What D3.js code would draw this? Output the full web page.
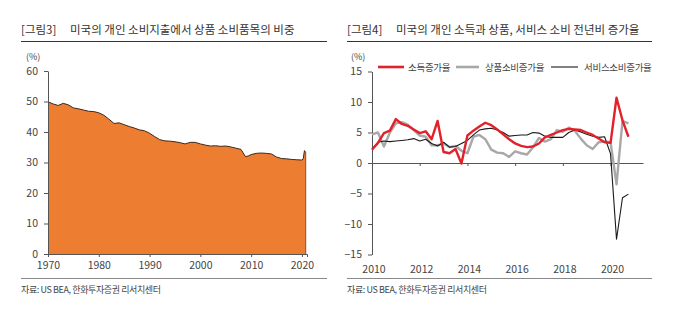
<!DOCTYPE html>
<html><head><meta charset="utf-8">
<script src="https://cdn.jsdelivr.net/npm/d3@7"></script>
<style>
body{margin:0;background:#fff;}
svg text{font-family:"Noto Sans CJK KR","Noto Sans",sans-serif;}
</style></head>
<body><svg id="c" width="680" height="323"></svg>
<script>
// ---- Figure 3: goods share of personal consumption expenditure (%)
const shareYears = [1970,1971,1972,1973,1974,1975,1976,1977,1978,1979,1980,1981,1982,1983,1984,1985,1986,1987,1988,1989,1990,1991,1992,1993,1994,1995,1996,1997,1998,1999,2000,2001,2002,2003,2004,2005,2006,2007,2008,2008.9,2009.5,2010,2011,2012,2013,2014,2015,2016,2017,2018,2019,2020.0,2020.25,2020.5,2020.75];
const shareValues = [49.9,49.2,48.7,49.4,48.9,47.9,47.6,47.2,46.8,46.7,46.3,45.5,44.2,42.8,43.0,42.4,41.8,41.3,40.7,40.4,39.6,38.5,37.5,37.1,37.0,36.8,36.5,36.1,36.6,36.6,36.1,35.7,35.4,35.5,35.3,35.4,35.1,34.7,34.3,31.9,32.2,32.6,33.0,33.1,33.0,32.8,31.8,31.3,31.2,31.0,30.9,30.8,31.2,33.9,33.3];
const leftXTicks = [1970,1980,1990,2000,2010,2020];
const leftYTicks = [0,10,20,30,40,50,60];

// ---- Figure 4: YoY growth (%), quarterly 2010Q1 - 2020Q4
const quarters = d3.range(44).map(i => 2010 + i/4);
const incomeGrowth = [2.2,3.3,4.9,5.3,7.2,6.4,6.1,5.5,4.9,5.2,3.9,6.9,1.8,1.6,2.3,-0.1,4.5,5.3,6.0,6.6,6.2,5.5,4.7,3.9,3.2,2.8,2.6,2.7,3.2,4.2,4.6,5.0,5.4,5.6,5.5,5.4,5.0,4.6,4.0,3.4,3.3,10.7,7.0,4.3];
const goodsGrowth = [4.7,5.0,2.7,5.0,6.5,6.7,6.3,5.4,4.5,4.3,2.9,2.9,3.2,2.6,2.8,2.0,1.6,4.3,4.6,3.9,2.2,1.7,1.6,1.0,1.9,1.6,1.4,2.6,4.1,3.5,3.9,5.4,5.1,5.8,5.3,4.0,2.9,2.3,3.4,3.5,3.4,-3.5,6.9,6.5];
const servicesGrowth = [2.2,3.4,3.6,3.5,3.6,3.7,3.8,4.0,3.6,3.9,3.2,2.8,3.4,2.6,2.7,3.2,3.7,4.6,5.4,5.6,5.7,5.4,5.0,4.4,4.5,4.6,4.6,5.0,4.9,4.4,4.2,4.2,4.2,5.0,5.4,5.1,4.7,4.4,4.2,4.3,1.5,-12.5,-5.7,-5.1];
const rightXTicks = [2010,2012,2014,2016,2018,2020];
const rightYTicks = [-15,-10,-5,0,5,10,15];
const seriesNames = ["소득증가율","상품소비증가율","서비스소비증가율"];

const svg = d3.select("#c");
const axisCol = "#555";
const txtCol = "#444";

function header(x0, x1, label, title){
  svg.append("text").attr("x",x0).attr("y",34).attr("font-size",11.5).attr("fill","#333").text(label);
  svg.append("text").attr("x",x0+49).attr("y",34).attr("font-size",11.5).attr("fill","#333").text(title);
  svg.append("line").attr("x1",x0).attr("x2",x1).attr("y1",41.5).attr("y2",41.5).attr("stroke","#333").attr("stroke-width",1);
  svg.append("line").attr("x1",x0).attr("x2",x1).attr("y1",278.5).attr("y2",278.5).attr("stroke","#888").attr("stroke-width",1);
  svg.append("text").attr("x",x0).attr("y",293).attr("font-size",9).attr("fill","#444").attr("letter-spacing",-0.4).text("자료: US BEA, 한화투자증권 리서치센터");
}
header(21,327,"[그림3]","미국의 개인 소비지출에서 상품 소비품목의 비중");
header(347,652,"[그림4]","미국의 개인 소득과 상품, 서비스 소비 전년비 증가율");

function styleAxis(g){
  g.selectAll("path,line").attr("stroke",axisCol);
  g.selectAll("text").attr("fill",txtCol).attr("font-size",10.5).attr("font-family","'Noto Sans','DejaVu Sans',sans-serif");
}

// ---------- Left chart
const xL = d3.scaleLinear().domain([1970,2021]).range([48,307]);
const yL = d3.scaleLinear().domain([0,60]).range([254,71]);
const leftData = shareYears.map((y,i)=>({x:y,v:shareValues[i]}));
svg.append("path").datum(leftData)
  .attr("d", d3.area().x(d=>xL(d.x)).y0(yL(0)).y1(d=>yL(d.v)))
  .attr("fill","#ed7d31");
svg.append("path").datum(leftData)
  .attr("d", d3.line().x(d=>xL(d.x)).y(d=>yL(d.v)))
  .attr("fill","none").attr("stroke","#3b2a1c").attr("stroke-width",1);
svg.append("line").attr("x1",xL(2020.75)).attr("x2",xL(2020.75)).attr("y1",yL(33.3)).attr("y2",yL(0)).attr("stroke","#6b3a18").attr("stroke-width",0.8);

const gLy = svg.append("g").attr("transform","translate(48,0)")
  .call(d3.axisLeft(yL).tickValues(leftYTicks).tickSize(4).tickSizeOuter(0).tickPadding(6));
styleAxis(gLy);
const gLx = svg.append("g").attr("transform",`translate(0,${yL(0)})`)
  .call(d3.axisBottom(xL).tickValues(leftXTicks).tickFormat(d3.format("d")).tickSize(3).tickSizeOuter(3).tickPadding(5));
styleAxis(gLx);
svg.append("text").attr("x",26).attr("y",60).attr("font-size",9).attr("fill",txtCol).text("(%)");

// ---------- Right chart
const xR = d3.scaleLinear().domain([2010,2021.36]).range([372,643]);
const yR = d3.scaleLinear().domain([-15,15]).range([254.5,71.5]);

const gRy = svg.append("g").attr("transform","translate(372,0)")
  .call(d3.axisLeft(yR).tickValues(rightYTicks).tickSize(4).tickSizeOuter(0).tickPadding(6));
styleAxis(gRy);
const gRx = svg.append("g").attr("transform",`translate(0,${yR(0)})`)
  .call(d3.axisBottom(xR).tickValues(rightXTicks).tickFormat("").tickSize(3).tickSizeOuter(0));
styleAxis(gRx);
svg.append("g").selectAll("text").data(rightXTicks).join("text")
  .attr("x",d=>xR(d)+2).attr("y",273).attr("text-anchor","middle")
  .attr("font-size",10.5).attr("fill",txtCol).attr("font-family","'Noto Sans','DejaVu Sans',sans-serif")
  .text(d=>d);
svg.append("text").attr("x",351).attr("y",60).attr("font-size",9).attr("fill",txtCol).text("(%)");

const lineR = d3.line().x(d=>xR(d.x)).y(d=>yR(d.v));
const series = [
  {vals:goodsGrowth,col:"#a8a8a8",w:2.4},
  {vals:servicesGrowth,col:"#1a1a1a",w:1.1},
  {vals:incomeGrowth,col:"#e3212b",w:2.4}
];
series.forEach(s=>{
  svg.append("path").datum(quarters.map((q,i)=>({x:q,v:s.vals[i]})))
    .attr("d",lineR).attr("fill","none").attr("stroke",s.col).attr("stroke-width",s.w).attr("stroke-linejoin","round");
});

// legend
const legend = [
  {name:seriesNames[0],col:"#e3212b",w:2.6,x1:378,x2:404,tx:408},
  {name:seriesNames[1],col:"#a8a8a8",w:2.6,x1:456,x2:479,tx:485},
  {name:seriesNames[2],col:"#1a1a1a",w:1.1,x1:551,x2:578,tx:584}
];
legend.forEach(l=>{
  svg.append("line").attr("x1",l.x1).attr("x2",l.x2).attr("y1",67).attr("y2",67).attr("stroke",l.col).attr("stroke-width",l.w);
  svg.append("text").attr("x",l.tx).attr("y",70.5).attr("font-size",9.5).attr("fill","#444").attr("letter-spacing",-0.3).text(l.name);
});
</script></body></html>
